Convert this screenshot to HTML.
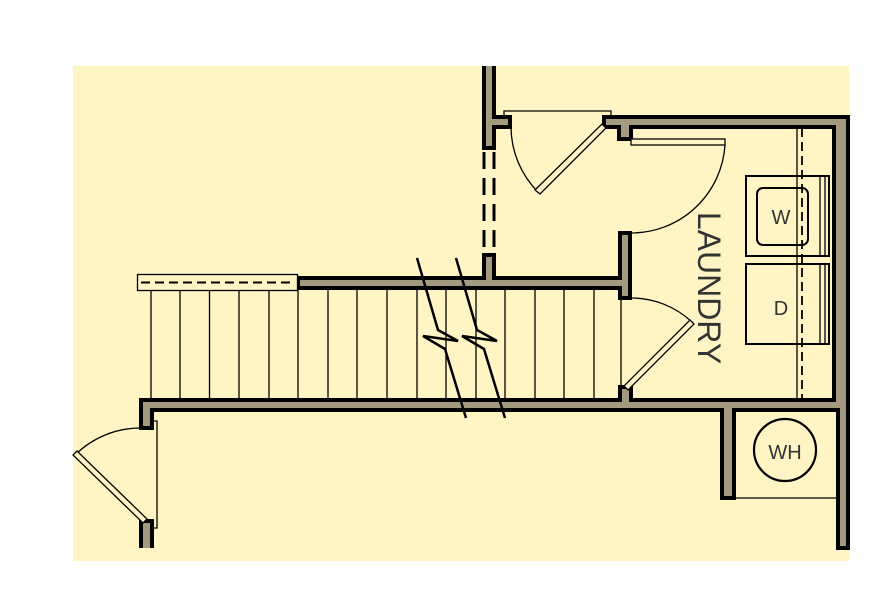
<!DOCTYPE html><html><head><style>body{margin:0;background:#fff}svg{display:block}</style></head><body>
<svg width="892" height="606" viewBox="0 0 892 606" xmlns="http://www.w3.org/2000/svg">
<rect x="73" y="66" width="776" height="495" fill="#fff5c4"/>
<g fill="#a39a80" stroke="#000" stroke-width="4" stroke-linejoin="miter">
<path d="M484,66 V148 H494 V127 H510 V117 H494 V66"/>
<path d="M484,255 V278 H298 V288 H620 V298 H630 V233 H620 V278 H494 V255 Z"/>
<path d="M848,117 H604 V127 H619 V139 H631 V127 H834 V400 H631 V387 H620 V400 H141 V428 H152 V410 H722 V498 H734 V410 H838 V548 H848 Z"/>
<path d="M141,548 V521 H152 V548"/>
</g>
<g fill="none" stroke="#000" stroke-width="3">
<line x1="484" y1="152" x2="484" y2="255" stroke-dasharray="17,9"/>
<line x1="494" y1="152" x2="494" y2="255" stroke-dasharray="17,9"/>
</g>
<g stroke="#000" stroke-width="1.3" fill="none">
<rect x="137.5" y="274.5" width="160" height="16" fill="#fff5c4"/>
<line x1="141" y1="282.5" x2="295" y2="282.5" stroke-width="2" stroke-dasharray="9,5"/>
<line x1="151" y1="290" x2="151" y2="399"/><line x1="180" y1="290" x2="180" y2="399"/>
<line x1="209.5" y1="290" x2="209.5" y2="399"/><line x1="239" y1="290" x2="239" y2="399"/>
<line x1="269" y1="290" x2="269" y2="399"/><line x1="298" y1="290" x2="298" y2="399"/>
<line x1="328" y1="290" x2="328" y2="399"/><line x1="357" y1="290" x2="357" y2="399"/>
<line x1="387" y1="290" x2="387" y2="399"/><line x1="417" y1="290" x2="417" y2="399"/>
<line x1="446" y1="290" x2="446" y2="399"/><line x1="476" y1="290" x2="476" y2="399"/>
<line x1="505" y1="290" x2="505" y2="399"/><line x1="535" y1="290" x2="535" y2="399"/>
<line x1="564" y1="290" x2="564" y2="399"/><line x1="594" y1="290" x2="594" y2="399"/>
<line x1="621" y1="298" x2="621" y2="387"/>
<polyline points="504,117 504,111 611,111 611,117"/>
<path d="M511,127 A93,93 0 0 0 538,192"/>
<polygon points="602,124 606,128 540,194 535,190" fill="#fff5c4"/>
<rect x="631" y="139" width="94" height="6" fill="#fff5c4"/>
<path d="M725,145 A94,94 0 0 1 631,233"/>
<path d="M631,298 A89,89 0 0 1 692,322"/>
<polygon points="690,320 694,324 628,390 624,386" fill="#fff5c4"/>
<polyline points="152,421 157,421 157,528 152,528"/>
<path d="M140,428 A93,93 0 0 0 75,455"/>
<polygon points="73,455 77,451 147,519 143,523" fill="#fff5c4"/>
<rect x="746" y="176" width="83" height="80" stroke-width="2"/>
<rect x="757" y="188" width="51" height="57" rx="6" stroke-width="2"/>
<line x1="820" y1="177" x2="820" y2="255"/><line x1="825" y1="177" x2="825" y2="255"/>
<rect x="746" y="264" width="83" height="80" stroke-width="2"/>
<line x1="820" y1="265" x2="820" y2="343"/><line x1="825" y1="265" x2="825" y2="343"/>
<line x1="797" y1="128" x2="797" y2="399"/>
<line x1="802" y1="128" x2="802" y2="399" stroke-width="1.8" stroke-dasharray="9,5"/>
<line x1="734" y1="498" x2="838" y2="498"/>
<circle cx="785" cy="450" r="31" stroke-width="2.2"/>
</g>
<g stroke="#000" stroke-width="2.5" fill="none" stroke-linejoin="miter">
<polyline points="417,258 438,330 458,341 423,336 445,349 466,418"/>
<polyline points="456,258 477,330 497,341 462,336 484,349 505,418"/>
</g>
<g font-family="Liberation Sans, sans-serif" fill="#333">
<text x="781" y="224" font-size="20" text-anchor="middle">W</text>
<text x="781" y="315" font-size="20" text-anchor="middle">D</text>
<text x="785" y="459" font-size="20" text-anchor="middle">WH</text>
<text transform="translate(698,288) rotate(90)" font-size="32" text-anchor="middle">LAUNDRY</text>
</g>
</svg>
</body></html>
